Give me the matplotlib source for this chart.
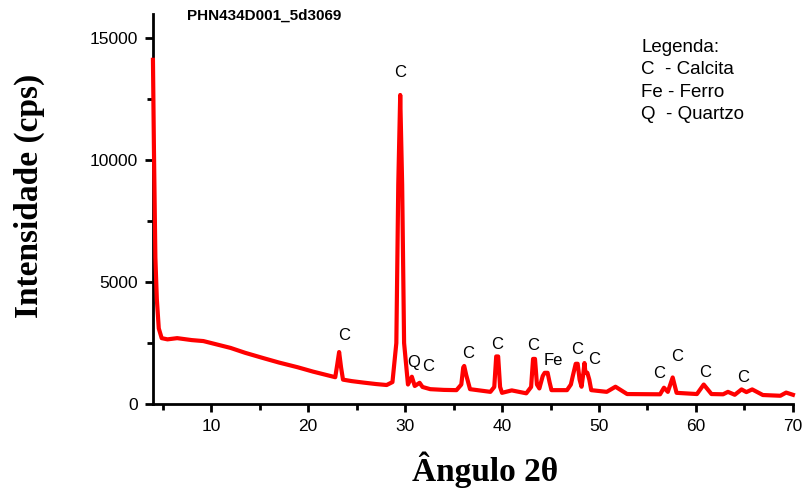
import matplotlib.pyplot as plt
from matplotlib.ticker import MultipleLocator

# difratograma (2theta, cps)
angulo = [4.0, 4.1, 4.25, 4.4, 4.6, 4.9, 5.5, 6.5, 8.0, 9.2, 10.5, 12.0, 13.5, 15.4, 17.0,
          18.9, 20.5, 22.3, 22.8, 23.0, 23.2, 23.4, 23.6, 24.5, 25.7, 27.0, 28.1, 28.7,
          29.1, 29.3, 29.5, 29.7, 29.9, 30.3, 30.7, 31.0, 31.5, 31.8, 32.6, 34.0, 35.3,
          35.8, 36.0, 36.1, 36.3, 36.7, 38.8, 39.2, 39.4, 39.6, 39.8, 40.0, 41.0, 42.5,
          43.0, 43.2, 43.4, 43.6, 43.85, 44.2, 44.4, 44.7, 44.9, 45.1, 46.7, 47.1, 47.3,
          47.6, 47.8, 48.0, 48.2, 48.4, 48.5, 48.6, 48.8, 49.0, 49.2, 50.8, 51.7, 52.9,
          56.3, 56.7, 57.1, 57.6, 58.0, 60.1, 60.8, 61.6, 62.8, 63.3, 64.0, 64.7, 65.2,
          65.8, 66.9, 68.7, 69.3, 70.0]
intensidade = [14100, 10500, 6000, 4300, 3100, 2700, 2650, 2700, 2620, 2580, 2450, 2300, 2100,
               1880, 1700, 1510, 1330, 1150, 1100, 1600, 2130, 1500, 1000, 940, 880, 820, 780,
               900, 2500, 9000, 12660, 9000, 2500, 800, 1120, 740, 870, 700, 610, 580, 570,
               800, 1500, 1560, 1200, 610, 500, 700, 1950, 1950, 700, 460, 560, 440,
               700, 1850, 1850, 800, 640, 1150, 1280, 1280, 900, 570, 570, 800, 1150,
               1650, 1650, 1000, 710, 1300, 1680, 1300, 1280, 1000, 570, 500, 710, 410,
               400, 670, 500, 1090, 460, 410, 800, 410, 400, 500, 380, 600, 490,
               600, 370, 340, 470, 380]

# rotulos dos picos
rot_txt = ['C', 'C', 'Q', 'C', 'C', 'C', 'C', 'Fe', 'C', 'C', 'C', 'C', 'C', 'C']
rot_x = [23.7, 29.5, 30.9, 32.4, 36.5, 39.5, 43.2, 45.3, 47.7, 49.5, 56.2, 58.1, 60.9, 64.9]
rot_y = [2790, 13560, 1720, 1520, 2090, 2460, 2380, 1800, 2250, 1840, 1270, 1930, 1310, 1100]

legenda = "Legenda:\nC  - Calcita\nFe - Ferro\nQ  - Quartzo"

fig = plt.figure(figsize=(8.05, 4.97), dpi=100)
ax = fig.add_axes([0.190, 0.187, 0.795, 0.785])

ax.plot(angulo, intensidade, color='#ff0000', lw=3, zorder=3, clip_on=False)

for t, x, y in zip(rot_txt, rot_x, rot_y):
    ax.text(x, y, t, ha='center', va='center', fontsize=12, family='Liberation Sans')

ax.text(0.763, 0.935, legenda, transform=ax.transAxes, ha='left', va='top',
        fontsize=13.5, family='Liberation Sans', linespacing=1.4)

ax.set_xlim(4.0, 70.0)
ax.set_ylim(0, 15980)
ax.xaxis.set_major_locator(MultipleLocator(10))
ax.xaxis.set_minor_locator(MultipleLocator(5))
ax.yaxis.set_major_locator(MultipleLocator(5000))
ax.yaxis.set_minor_locator(MultipleLocator(2500))

for s in ['top', 'right']:
    ax.spines[s].set_visible(False)
for s in ['left', 'bottom']:
    ax.spines[s].set_linewidth(2)

ax.tick_params(which='major', direction='out', length=6, width=2, labelsize=12.5, pad=5)
ax.tick_params(which='minor', direction='out', length=4, width=2)
for lb in ax.get_xticklabels() + ax.get_yticklabels():
    lb.set_family('Liberation Sans')

fig.text(0.232, 0.968, 'PHN434D001_5d3069', fontsize=11, fontweight='bold',
         family='Liberation Sans', va='center', ha='left')
fig.text(0.037, 0.605, 'Intensidade (cps)', rotation=90, fontsize=24, fontweight='bold',
         family='Liberation Serif', va='center', ha='center')
fig.text(0.603, 0.055, 'Ângulo 2θ', fontsize=24, fontweight='bold',
         family='Liberation Serif', va='center', ha='center')

fig.savefig('out.png', dpi=100)
